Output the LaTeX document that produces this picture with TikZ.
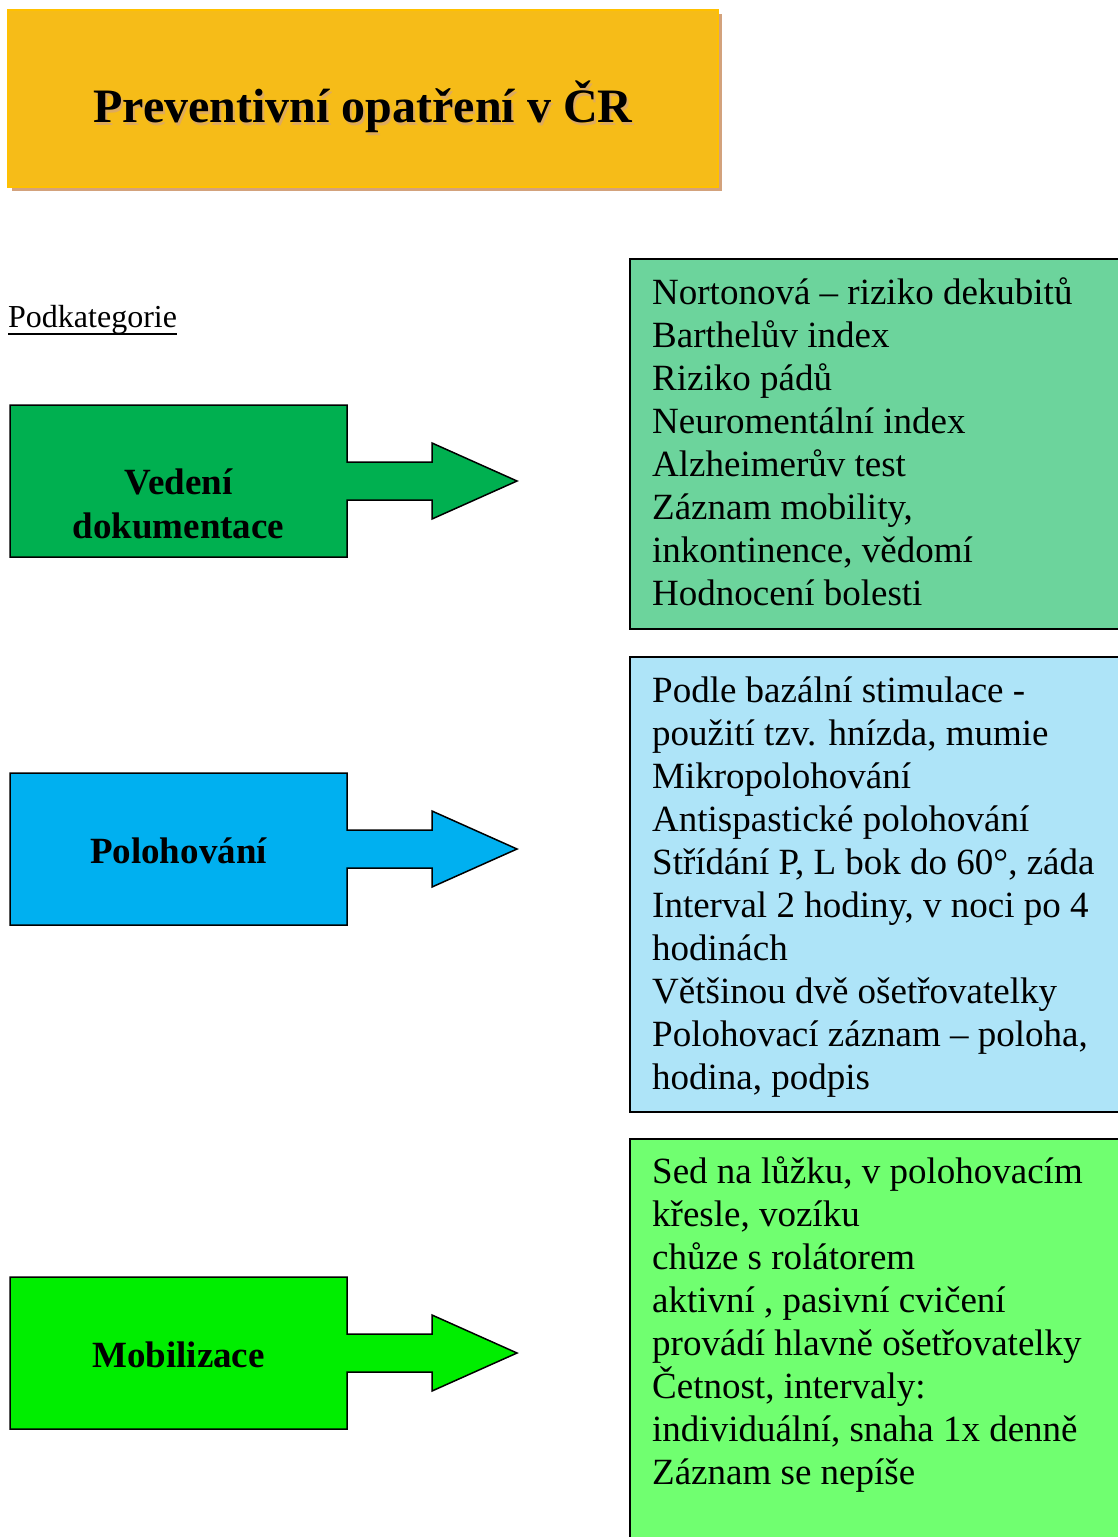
\documentclass[tikz,border=0pt]{standalone}
\usepackage{fontspec}
\setmainfont{Liberation Serif}

\definecolor{titlefill}{HTML}{F6BC18}
\definecolor{titleedge}{HTML}{FFC000}
\definecolor{titleshadow}{HTML}{D3A27C}
\definecolor{docarrow}{HTML}{00B050}
\definecolor{docbox}{HTML}{6CD49C}
\definecolor{posarrow}{HTML}{00B0F0}
\definecolor{posbox}{HTML}{AEE4F8}
\definecolor{mobarrow}{HTML}{00EE00}
\definecolor{mobbox}{HTML}{70FF70}

\tikzset{
  arrowshape/.style={draw=black, line width=1.5pt, line join=miter},
  infobox/.style={draw=black, line width=2pt},
  labeltext/.style={font=\fontsize{37}{44}\selectfont\bfseries, align=center, inner sep=0pt},
  bodytext/.style={font=\fontsize{37}{43}\selectfont, align=left, anchor=north west, inner sep=0pt},
}

\begin{document}
\begin{tikzpicture}[x=1pt, y=-1pt]
  \useasboundingbox (0,0) rectangle (1118,1537);
  \clip (0,0) rectangle (1118,1537);

  % title banner with drop shadow
  \fill[titleshadow] (12,14) rectangle (722,191);
  \fill[titlefill, draw=titleedge, line width=1.5pt] (8,10) rectangle (718,187);
  \node[anchor=base, font=\fontsize{48}{56}\selectfont\bfseries, text=titleshadow!70!titlefill, inner sep=0pt]
    at (365,125) {Preventivní opatření v ČR};
  \node (title) [anchor=base, font=\fontsize{48}{56}\selectfont\bfseries, inner sep=0pt]
    at (363,122) {Preventivní opatření v ČR};

  % subcategory heading
  \node (pk) [anchor=base west, font=\fontsize{32}{38}\selectfont, inner sep=0pt] at (8,327) {Podkategorie};
  \draw[line width=1.8pt] ([yshift=-7pt]pk.base west) -- ([yshift=-7pt]pk.base east);

  % block arrows
  \draw[arrowshape, fill=docarrow, shift={(0,405)}]
    (10,0) -- (347,0) -- (347,57) -- (432,57) -- (432,38) -- (517,76) -- (432,114)
    -- (432,95) -- (347,95) -- (347,152) -- (10,152) -- cycle;
  \draw[arrowshape, fill=posarrow, shift={(0,773)}]
    (10,0) -- (347,0) -- (347,57) -- (432,57) -- (432,38) -- (517,76) -- (432,114)
    -- (432,95) -- (347,95) -- (347,152) -- (10,152) -- cycle;
  \draw[arrowshape, fill=mobarrow, shift={(0,1277)}]
    (10,0) -- (347,0) -- (347,57) -- (432,57) -- (432,38) -- (517,76) -- (432,114)
    -- (432,95) -- (347,95) -- (347,152) -- (10,152) -- cycle;

  \node (doc) [labeltext, anchor=north] at (178.5,{494-30.8}) {\strut Vedení\\dokumentace};
  \node (pos) [labeltext, anchor=base] at (178.5,863) {Polohování};
  \node (mob) [labeltext, anchor=base] at (178.5,1367) {Mobilizace};

  % detail boxes
  \draw[infobox, fill=docbox] (630,259) rectangle (1130,629);
  \draw[infobox, fill=posbox] (630,657) rectangle (1130,1112);
  \draw[infobox, fill=mobbox] (630,1139) rectangle (1130,1550);

  \node (doctext) [bodytext] at (652,{304-30.1}) {\strut Nortonová – riziko dekubitů\\
    Barthelův index\\
    Riziko pádů\\
    Neuromentální index\\
    Alzheimerův test\\
    Záznam mobility,\\
    inkontinence, vědomí\\
    Hodnocení bolesti};

  \node (postext) [bodytext] at (652,{702-30.1}) {\strut Podle bazální stimulace -\\
    použití tzv. hnízda, mumie\\
    Mikropolohování\\
    Antispastické polohování\\
    Střídání P, L bok do 60°, záda\\
    Interval 2 hodiny, v noci po 4\\
    hodinách\\
    Většinou dvě ošetřovatelky\\
    Polohovací záznam – poloha,\\
    hodina, podpis};

  \node (mobtext) [bodytext] at (652,{1183-30.1}) {\strut Sed na lůžku, v polohovacím\\
    křesle, vozíku\\
    chůze s rolátorem\\
    aktivní , pasivní cvičení\\
    provádí hlavně ošetřovatelky\\
    Četnost, intervaly:\\
    individuální, snaha 1x denně\\
    Záznam se nepíše};
\end{tikzpicture}
\end{document}
